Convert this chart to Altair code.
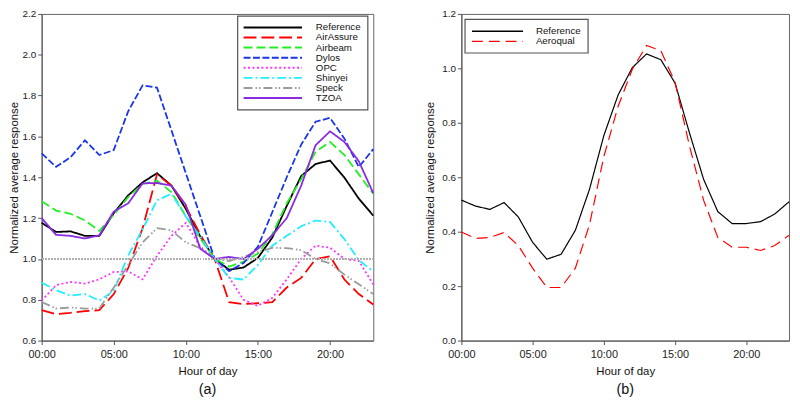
import altair as alt
import pandas as pd

FONT = "Liberation Sans"

hours = list(range(24))
hour_ticks = [0, 5, 10, 15, 20]

# ---- panel (a) ----
series_a = ["Reference", "AirAssure", "Airbeam", "Dylos", "OPC", "Shinyei", "Speck", "TZOA"]
reference_a = [1.177, 1.132, 1.135, 1.113, 1.113, 1.224, 1.311, 1.375, 1.42, 1.359, 1.245, 1.11,
               1.0, 0.947, 0.958, 1.005, 1.105, 1.26, 1.406, 1.465, 1.482, 1.398, 1.295, 1.212]
airassure = [0.749, 0.730, 0.736, 0.744, 0.749, 0.828, 0.955, 1.15, 1.414, 1.359, 1.256, 1.12,
             1.0, 0.788, 0.779, 0.783, 0.788, 0.86, 0.907, 0.999, 1.013, 0.899, 0.828, 0.777]
airbeam = [1.283, 1.237, 1.221, 1.189, 1.137, 1.216, 1.303, 1.367, 1.383, 1.327, 1.21, 1.1,
           1.0, 0.963, 0.986, 1.026, 1.121, 1.272, 1.391, 1.525, 1.573, 1.509, 1.414, 1.319]
dylos = [1.517, 1.451, 1.498, 1.581, 1.509, 1.533, 1.723, 1.85, 1.839, 1.63, 1.42, 1.21,
         1.0, 0.94, 0.98, 1.06, 1.23, 1.40, 1.56, 1.672, 1.691, 1.589, 1.45, 1.538]
opc = [0.796, 0.872, 0.887, 0.879, 0.9, 0.936, 0.939, 0.9, 1.015, 1.113, 1.177, 1.06,
       1.0, 0.91, 0.80, 0.77, 0.81, 0.90, 1.0, 1.065, 1.055, 1.0, 0.99, 0.875]
shinyei = [0.884, 0.847, 0.82, 0.828, 0.796, 0.844, 1.017, 1.145, 1.287, 1.319, 1.208, 1.11,
           1.0, 0.907, 0.899, 0.971, 1.065, 1.113, 1.16, 1.188, 1.181, 1.097, 0.994, 0.939]
speck = [0.789, 0.757, 0.762, 0.757, 0.757, 0.86, 0.97, 1.081, 1.151, 1.14, 1.081, 1.053,
         1.0, 0.99, 1.01, 1.034, 1.054, 1.053, 1.043, 1.0, 0.978, 0.923, 0.876, 0.828]
tzoa = [1.2, 1.118, 1.113, 1.1, 1.116, 1.232, 1.272, 1.37, 1.372, 1.359, 1.265, 1.05,
        1.0, 1.01, 0.999, 1.05, 1.116, 1.2, 1.359, 1.557, 1.625, 1.573, 1.478, 1.322]
colors_a = ["#000000", "#ff0000", "#22ee22", "#1a35e8", "#ff33ff", "#22eeff", "#9a9a9a", "#8a2be2"]
dashes_a = [[1, 0], [13, 5], [9, 4], [7, 2.5], [2, 2.5], [9, 3, 2, 3], [9, 3, 1.5, 2, 1.5, 3], [1, 0]]

# ---- panel (b) ----
series_b = ["Reference", "Aeroqual"]
reference_b = [0.516, 0.494, 0.482, 0.507, 0.454, 0.361, 0.299, 0.317, 0.405, 0.557, 0.753, 0.902,
               1.003, 1.053, 1.032, 0.946, 0.765, 0.593, 0.474, 0.43, 0.43, 0.437, 0.465, 0.51]
aeroqual = [0.399, 0.375, 0.379, 0.397, 0.349, 0.266, 0.195, 0.195, 0.266, 0.427, 0.676, 0.86,
            0.997, 1.084, 1.065, 0.949, 0.718, 0.516, 0.379, 0.343, 0.343, 0.331, 0.349, 0.387]
colors_b = ["#000000", "#ff0000"]
dashes_b = [[1, 0], [11, 6]]

vals_a = [reference_a, airassure, airbeam, dylos, opc, shinyei, speck, tzoa]
df_a = pd.DataFrame({
    "hour": hours * len(series_a),
    "value": [v for s in vals_a for v in s],
    "series": [n for n in series_a for _ in hours],
})
df_b = pd.DataFrame({
    "hour": hours * 2,
    "value": reference_b + aeroqual,
    "series": [n for n in series_b for _ in hours],
})

label_expr = "(datum.value < 10 ? '0' : '') + datum.value + ':00'"


def x_enc():
    return alt.X("hour:Q", scale=alt.Scale(domain=[0, 23], nice=False, zero=False),
                 axis=alt.Axis(values=hour_ticks, labelExpr=label_expr, title="Hour of day",
                               labelFontSize=11, titlePadding=6, labelPadding=4, labelFlush=False))


def legend_layers(names, colors, dashes, box, sym_x, label_x, row_range, width):
    """Legend drawn inside the plot: box, line samples, labels."""
    ldf = pd.DataFrame({"series": names})
    cscale = alt.Scale(domain=names, range=colors)
    dscale = alt.Scale(domain=names, range=dashes)
    yscale = alt.Scale(type="point", domain=names, range=row_range, padding=0)
    frame = alt.Chart(pd.DataFrame({"k": [0]})).mark_rect(
        fill="white", stroke="#555555", strokeWidth=1.2
    ).encode(x=alt.value(box[0]), x2=alt.value(box[1]), y=alt.value(box[2]), y2=alt.value(box[3]))
    samples = alt.Chart(ldf).mark_rule(strokeWidth=width).encode(
        x=alt.value(sym_x[0]), x2=alt.value(sym_x[1]),
        y=alt.Y("series:N", scale=yscale, axis=None),
        color=alt.Color("series:N", scale=cscale, legend=None),
        strokeDash=alt.StrokeDash("series:N", scale=dscale, legend=None),
    )
    labels = alt.Chart(ldf).mark_text(
        align="left", baseline="middle", fontSize=9.8, font=FONT, color="#111111"
    ).encode(
        x=alt.value(label_x),
        y=alt.Y("series:N", scale=yscale, axis=None),
        text="series:N",
    )
    return frame, samples, labels


W1, W2, H = 335, 331, 330

lines_a = alt.Chart(df_a).mark_line(strokeWidth=1.8).encode(
    x=x_enc(),
    y=alt.Y("value:Q", scale=alt.Scale(domain=[0.6, 2.2], nice=False, zero=False),
            axis=alt.Axis(values=[0.6, 0.8, 1.0, 1.2, 1.4, 1.6, 1.8, 2.0, 2.2], format=".1f",
                          title="Normalized average response", titlePadding=2, labelFontSize=10,
                          labelFlush=False)),
    color=alt.Color("series:N", scale=alt.Scale(domain=series_a, range=colors_a), legend=None),
    strokeDash=alt.StrokeDash("series:N", scale=alt.Scale(domain=series_a, range=dashes_a), legend=None),
    order=alt.Order("hour:Q"),
)
ref_line = alt.Chart(df_a).mark_rule(color="#b0b0b0", strokeDash=[1, 2], strokeWidth=1).encode(
    y=alt.datum(1.0)
)
fa, sa, la = legend_layers(series_a, colors_a, dashes_a, (W1 - 137, W1 - 5.5, 2.2, 97),
                           (W1 - 131, W1 - 72), W1 - 58, [13.6, 85], 2)
panel_a = alt.layer(alt.layer(lines_a, ref_line), fa, sa, la).resolve_scale(y="independent").properties(
    width=W1, height=H,
    title=alt.TitleParams("(a)", orient="bottom", fontSize=14.5, fontWeight="normal", font=FONT,
                          offset=6, color="#111111"),
)

lines_b = alt.Chart(df_b).mark_line(strokeWidth=1.2).encode(
    x=x_enc(),
    y=alt.Y("value:Q", scale=alt.Scale(domain=[0, 1.2], nice=False, zero=False),
            axis=alt.Axis(values=[0.0, 0.2, 0.4, 0.6, 0.8, 1.0, 1.2], format=".1f",
                          title="Normalized average response", titlePadding=6, labelFontSize=10,
                          labelFlush=False)),
    color=alt.Color("series:N", scale=alt.Scale(domain=series_b, range=colors_b), legend=None),
    strokeDash=alt.StrokeDash("series:N", scale=alt.Scale(domain=series_b, range=dashes_b), legend=None),
    order=alt.Order("hour:Q"),
)
fb, sb, lb = legend_layers(series_b, colors_b, dashes_b, (3.7, 128, 5.5, 39.5),
                           (10.7, 62.3), 75.3, [17.5, 27.8], 1.3)
panel_b = alt.layer(lines_b, fb, sb, lb).resolve_scale(y="independent").properties(
    width=W2, height=H,
    title=alt.TitleParams("(b)", orient="bottom", fontSize=14.5, fontWeight="normal", font=FONT,
                          offset=6, color="#111111"),
)

chart = alt.hconcat(panel_a, panel_b, spacing=46).resolve_scale(
    color="independent", strokeDash="independent"
).properties(
    padding={"left": 0, "top": -2, "right": 0, "bottom": -1}
).configure_view(
    stroke="#666666", strokeWidth=1
).configure_axis(
    grid=False, domainColor="#555555", tickColor="#555555", tickSize=4,
    labelFont=FONT, titleFont=FONT, labelColor="#222222", titleColor="#111111",
    titleFontSize=11.5, titleFontWeight="normal"
)

chart.save("out.html", embed_options={"renderer": "svg", "actions": False})
